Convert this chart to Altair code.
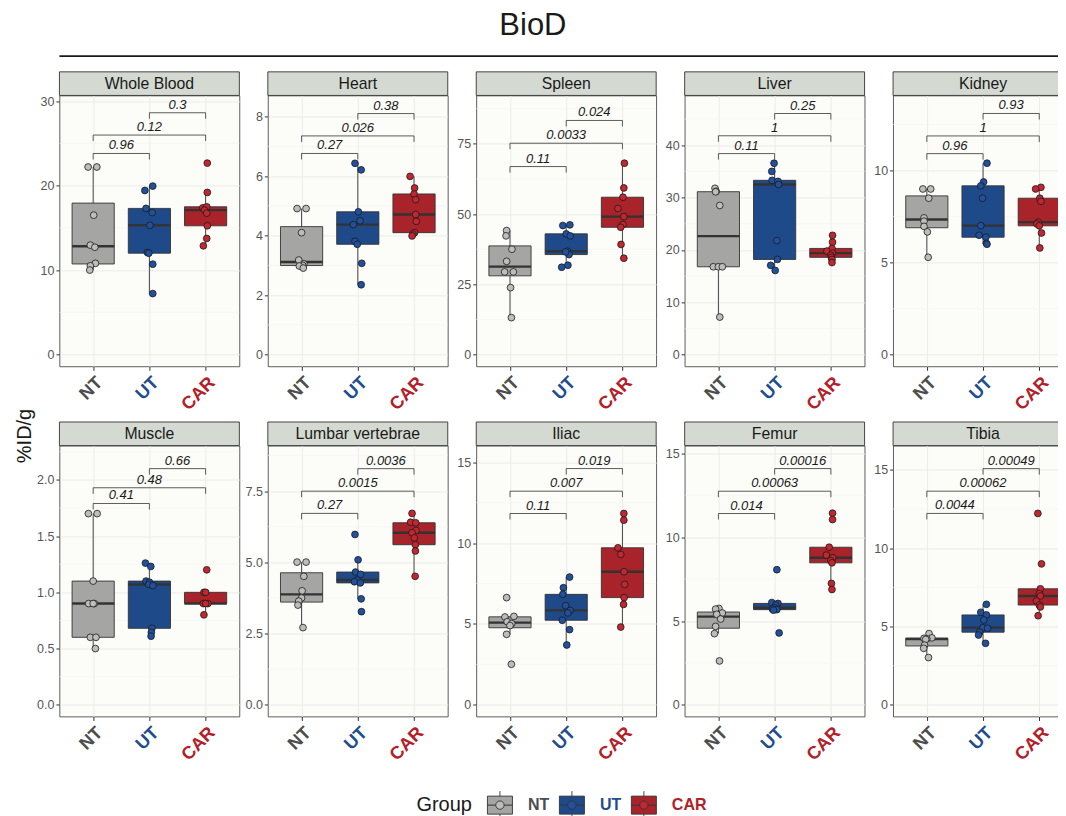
import altair as alt
import pandas as pd

FONT = "Liberation Sans"
GROUPS = ["NT", "UT", "CAR"]
BOX_FILL = ["#A5A5A3", "#1F4A8A", "#A9232B"]
PT_FILL = ["#BDBDBB", "#21509C", "#C2272F"]
LAB_COL = ["#4D4D4D", "#1F4E8C", "#B3202A"]

# ---------------- data ----------------
# Whole Blood
wb_nt = [22.2, 22.2, 16.5, 12.95, 12.7, 10.8, 10.5, 10.0]
wb_nt_j = [-0.09, 0.065, 0.01, -0.05, 0.03, 0.04, -0.05, -0.06]
wb_ut = [19.42, 19.94, 17.3, 16.8, 15.3, 12.08, 12.0, 10.7, 7.22]
wb_ut_j = [-0.08, 0.06, -0.06, 0.05, 0.01, -0.035, -0.01, 0.06, 0.06]
wb_car = [22.66, 19.19, 17.37, 17.49, 17.1, 16.74, 15.24, 13.74, 12.87]
wb_car_j = [0.03, 0.03, -0.05, 0.02, -0.02, 0.02, 0.03, 0.02, -0.04]
wb_br = [23.8, 25.98, 28.62]
wb_p = ["0.96", "0.12", "0.3"]

# Heart
ht_nt = [4.91, 4.91, 4.10, 3.18, 3.05, 3.0, 2.98, 2.91]
ht_nt_j = [-0.08, 0.08, 0.0, -0.05, 0.04, 0.02, -0.04, 0.03]
ht_ut = [6.43, 6.21, 4.80, 4.50, 4.37, 3.81, 3.71, 3.07, 2.35]
ht_ut_j = [-0.05, 0.06, 0.01, 0.04, -0.08, -0.05, -0.01, 0.07, 0.06]
ht_car = [5.99, 5.60, 5.40, 5.21, 4.71, 4.48, 4.10, 4.05, 3.99]
ht_car_j = [-0.07, 0.01, 0.0, 0.03, 0.03, 0.04, 0.01, -0.02, -0.035]
ht_br = [6.76, 7.35, 8.10]
ht_p = ["0.27", "0.026", "0.38"]

# Spleen
sp_nt = [44.14, 42.25, 37.5, 33.2, 29.43, 29.43, 23.85, 13.17]
sp_nt_j = [-0.06, -0.07, 0.035, -0.06, -0.095, 0.06, 0.01, 0.025]
sp_ut = [46.16, 45.93, 42.96, 42.25, 36.79, 35.6, 36.55, 31.8, 31.09]
sp_ut_j = [0.065, -0.06, 0.0, 0.07, 0.02, 0.05, -0.01, 0.03, -0.08]
sp_car = [68.1, 59.3, 56.0, 52.0, 49.1, 46.3, 45.3, 39.2, 34.3]
sp_car_j = [0.035, 0.025, 0.01, -0.08, 0.025, 0.01, -0.03, -0.025, 0.025]
sp_br = [66.9, 75.2, 83.3]
sp_p = ["0.11", "0.0033", "0.024"]

# Liver
lv_nt = [31.78, 31.2, 31.1, 28.5, 16.8, 16.8, 16.8, 7.2]
lv_nt_j = [-0.06, -0.04, -0.05, 0.025, -0.09, 0.0, 0.07, 0.025]
lv_ut = [36.56, 35.0, 33.3, 33.1, 32.5, 21.8, 18.2, 17.07, 16.1]
lv_ut_j = [-0.01, -0.05, -0.045, 0.06, 0.07, 0.04, 0.05, -0.07, 0.01]
lv_car = [22.8, 21.5, 20.3, 19.8, 19.4, 19.0, 18.6, 18.2, 17.6]
lv_car_j = [0.03, 0.03, 0.02, -0.07, 0.03, 0.0, 0.01, 0.02, 0.02]
lv_br = [38.4, 41.8, 46.05]
lv_p = ["0.11", "1", "0.25"]

# Kidney
kd_nt = [9.0, 9.0, 8.5, 7.43, 7.25, 6.97, 6.67, 5.29]
kd_nt_j = [-0.07, 0.07, 0.035, -0.05, -0.05, -0.05, 0.01, 0.025]
kd_ut = [10.4, 9.38, 9.17, 8.5, 7.01, 6.49, 6.38, 6.05, 6.0]
kd_ut_j = [0.07, 0.01, -0.04, -0.01, -0.04, -0.07, 0.05, 0.06, 0.07]
kd_car = [9.09, 9.0, 8.5, 8.33, 7.2, 7.1, 7.0, 6.61, 5.8]
kd_car_j = [0.03, -0.065, 0.01, 0.03, -0.02, -0.04, 0.0, 0.04, 0.01]
kd_br = [10.92, 11.88, 13.1]
kd_p = ["0.96", "1", "0.93"]

# Muscle
mu_nt = [1.7, 1.7, 1.1, 0.9, 0.9, 0.9, 0.6, 0.6, 0.5]
mu_nt_j = [-0.085, 0.07, 0.0, -0.08, 0.02, 0.0, -0.05, 0.05, 0.04]
mu_ut = [1.26, 1.23, 1.10, 1.09, 1.07, 1.06, 0.68, 0.645, 0.61]
mu_ut_j = [-0.07, 0.025, -0.06, 0.0, -0.01, 0.06, 0.045, 0.035, 0.03]
mu_car = [1.2, 1.0, 1.0, 0.9, 0.9, 0.9, 0.8]
mu_car_j = [0.02, -0.03, 0.0, -0.04, 0.04, 0.0, -0.03]
mu_br = [1.79, 1.93, 2.10]
mu_p = ["0.41", "0.48", "0.66"]

# Lumbar vertebrae
lu_nt = [5.01, 5.01, 4.51, 4.0, 3.75, 3.64, 3.5, 2.71]
lu_nt_j = [-0.08, 0.08, 0.04, 0.01, 0.0, -0.05, -0.065, 0.025]
lu_ut = [5.98, 5.09, 4.66, 4.58, 4.38, 4.32, 4.28, 3.72, 3.27]
lu_ut_j = [-0.05, 0.005, -0.04, 0.05, -0.01, -0.06, 0.045, 0.06, 0.065]
lu_car = [6.72, 6.41, 6.39, 6.12, 6.04, 5.86, 5.62, 5.40, 4.51]
lu_car_j = [-0.035, -0.06, 0.03, 0.035, -0.035, 0.005, 0.025, 0.025, 0.02]
lu_br = [6.72, 7.50, 8.29]
lu_p = ["0.27", "0.0015", "0.0036"]

# Iliac
il_nt = [6.63, 5.47, 5.43, 5.14, 5.02, 4.9, 4.36, 2.51]
il_nt_j = [-0.06, 0.07, -0.09, -0.05, 0.03, 0.0, -0.06, 0.025]
il_ut = [7.90, 7.24, 6.83, 6.13, 5.84, 5.68, 5.23, 4.65, 3.70]
il_ut_j = [0.06, -0.05, -0.06, -0.01, 0.07, 0.03, -0.07, 0.06, 0.01]
il_car = [11.83, 11.42, 9.71, 9.30, 8.23, 7.45, 6.63, 6.21, 4.81]
il_car_j = [0.025, 0.025, -0.08, -0.03, 0.03, 0.04, 0.03, 0.02, -0.03]
il_br = [11.83, 13.21, 14.61]
il_p = ["0.11", "0.007", "0.019"]

# Femur
fe_nt = [5.75, 5.71, 5.48, 5.40, 5.12, 4.68, 4.25, 2.62]
fe_nt_j = [0.01, -0.05, 0.07, -0.03, 0.04, -0.05, -0.07, 0.02]
fe_ut = [8.06, 6.10, 6.05, 5.95, 5.79, 5.72, 5.68, 5.65, 4.29]
fe_ut_j = [0.04, -0.05, 0.06, 0.02, 0.0, -0.04, 0.04, -0.02, 0.08]
fe_car = [11.43, 11.05, 9.40, 8.93, 8.77, 8.6, 8.47, 7.24, 6.88]
fe_car_j = [0.03, 0.03, -0.03, -0.08, 0.035, 0.0, 0.02, 0.01, 0.02]
fe_br = [11.41, 12.74, 14.09]
fe_p = ["0.014", "0.00063", "0.00016"]

# Tibia
ti_nt = [4.55, 4.28, 4.25, 4.22, 4.18, 3.81, 3.61, 3.02]
ti_nt_j = [0.04, 0.09, -0.05, 0.0, -0.02, -0.04, -0.055, 0.03]
ti_ut = [6.42, 5.91, 5.74, 5.42, 4.93, 4.89, 4.64, 4.46, 3.93]
ti_ut_j = [0.06, -0.04, 0.06, 0.015, 0.0, 0.08, -0.06, -0.08, 0.045]
ti_car = [12.22, 9.0, 7.41, 7.1, 6.95, 6.63, 6.37, 6.25, 5.69]
ti_car_j = [-0.025, 0.04, 0.02, 0.0, 0.02, -0.05, 0.0, 0.02, -0.02]
ti_br = [12.22, 13.64, 15.08]
ti_p = ["0.0044", "0.00062", "0.00049"]

PANELS = [
    ("Whole Blood", [wb_nt, wb_ut, wb_car], [wb_nt_j, wb_ut_j, wb_car_j], [-1.39, 30.67], [0, 10, 20, 30], "d", wb_br, wb_p),
    ("Heart", [ht_nt, ht_ut, ht_car], [ht_nt_j, ht_ut_j, ht_car_j], [-0.39, 8.71], [0, 2, 4, 6, 8], "d", ht_br, ht_p),
    ("Spleen", [sp_nt, sp_ut, sp_car], [sp_nt_j, sp_ut_j, sp_car_j], [-4.15, 92.2], [0, 25, 50, 75], "d", sp_br, sp_p),
    ("Liver", [lv_nt, lv_ut, lv_car], [lv_nt_j, lv_ut_j, lv_car_j], [-2.2, 49.5], [0, 10, 20, 30, 40], "d", lv_br, lv_p),
    ("Kidney", [kd_nt, kd_ut, kd_car], [kd_nt_j, kd_ut_j, kd_car_j], [-0.63, 14.08], [0, 5, 10], "d", kd_br, kd_p),
    ("Muscle", [mu_nt, mu_ut, mu_car], [mu_nt_j, mu_ut_j, mu_car_j], [-0.104, 2.305], [0, 0.5, 1.0, 1.5, 2.0], ".1f", mu_br, mu_p),
    ("Lumbar vertebrae", [lu_nt, lu_ut, lu_car], [lu_nt_j, lu_ut_j, lu_car_j], [-0.41, 9.10], [0, 2.5, 5.0, 7.5], ".1f", lu_br, lu_p),
    ("Iliac", [il_nt, il_ut, il_car], [il_nt_j, il_ut_j, il_car_j], [-0.72, 16.03], [0, 5, 10, 15], "d", il_br, il_p),
    ("Femur", [fe_nt, fe_ut, fe_car], [fe_nt_j, fe_ut_j, fe_car_j], [-0.69, 15.46], [0, 5, 10, 15], "d", fe_br, fe_p),
    ("Tibia", [ti_nt, ti_ut, ti_car], [ti_nt_j, ti_ut_j, ti_car_j], [-0.74, 16.55], [0, 5, 10, 15], "d", ti_br, ti_p),
]

# ---------------- layout ----------------
W, H = 180, 271
STRIP = 23.6
TIP_PX = 6.0


def make_panel(name, vals, jits, domain, ticks, fmt, br_y, br_p, first=False):
    rows = []
    for gi, g in enumerate(GROUPS):
        for v, j in zip(vals[gi], jits[gi]):
            rows.append(dict(group=g, idx=gi + 1, value=v, jit=j,
                             bc=BOX_FILL[gi], pc=PT_FILL[gi]))
    df = pd.DataFrame(rows)

    tip = TIP_PX * (domain[1] - domain[0]) / H
    br = pd.DataFrame(dict(a=[1, 1, 2], b=[2, 3, 3], y=br_y, p=br_p))
    br["ytip"] = br["y"] - tip
    br["mid"] = (br["a"] + br["b"]) / 2

    step = ticks[1] - ticks[0]
    minors = [t + step / 2 for t in ticks if t + step / 2 < domain[1]]

    xs = alt.Scale(domain=[0.4, 3.6], nice=False, zero=False)
    ys = alt.Scale(domain=domain, nice=False, zero=False)
    xaxis = alt.Axis(
        values=[1, 2, 3],
        labelExpr="datum.value == 1 ? 'NT' : datum.value == 2 ? 'UT' : 'CAR'",
        labelAngle=-45, labelAlign="right", labelBaseline="top",
        labelFontSize=18, labelFontWeight="bold", labelPadding=3,
        labelColor={"condition": [
            {"test": "datum.value == 2", "value": LAB_COL[1]},
            {"test": "datum.value == 3", "value": LAB_COL[2]}],
            "value": LAB_COL[0]},
        labelOverlap=False, labelFlush=False,
        tickColor="#333333", tickSize=4, domain=False,
        grid=True, gridColor="#EBEBEB", gridWidth=1, title=None)
    yaxis = alt.Axis(
        values=ticks, format=fmt, labelFontSize=12.5, labelColor="#555555",
        labelPadding=2, labelOverlap=False, tickColor="#333333", tickSize=3.5,
        domain=False, grid=True, gridColor="#EBEBEB", gridWidth=1, title=None)

    def X(f):
        return alt.X(f, type="quantitative", scale=xs, axis=xaxis)

    def Y(f):
        return alt.Y(f, type="quantitative", scale=ys, axis=yaxis)

    base = alt.Chart(df)

    minor = alt.Chart(pd.DataFrame({"m": minors})).mark_rule(
        color="#F3F3F1", strokeWidth=0.6).encode(y=Y("m"))

    whisk = base.transform_joinaggregate(
        q1="q1(value)", q3="q3(value)", groupby=["group", "idx"]
    ).transform_calculate(
        lo="datum.q1 - 1.5 * (datum.q3 - datum.q1)",
        hi="datum.q3 + 1.5 * (datum.q3 - datum.q1)",
    ).transform_filter(
        "datum.value >= datum.lo && datum.value <= datum.hi"
    ).transform_aggregate(
        wmin="min(value)", wmax="max(value)", groupby=["group", "idx"]
    ).mark_rule(color="#333333", strokeWidth=0.9).encode(
        x=X("idx"), y=Y("wmin"), y2=alt.Y2("wmax"))

    stats = base.transform_aggregate(
        q1="q1(value)", med="median(value)", q3="q3(value)",
        groupby=["group", "idx", "bc"]
    ).transform_calculate(x1="datum.idx - 0.375", x2="datum.idx + 0.375")

    box = stats.mark_rect(stroke="#333333", strokeWidth=0.9).encode(
        x=X("x1"), x2=alt.X2("x2"), y=Y("q1"), y2=alt.Y2("q3"),
        fill=alt.Fill("bc:N", scale=None))
    med = stats.mark_rule(color="#333333", strokeWidth=2.4).encode(
        x=X("x1"), x2=alt.X2("x2"), y=Y("med"))

    pts = base.transform_calculate(xp="datum.idx + datum.jit").mark_point(
        shape="circle", filled=True, size=46, stroke="#1A1A1A",
        strokeWidth=0.8, opacity=1).encode(
        x=X("xp"), y=Y("value"), fill=alt.Fill("pc:N", scale=None))

    bc = alt.Chart(br)
    b_h = bc.mark_rule(color="#333333", strokeWidth=0.8).encode(
        x=X("a"), x2=alt.X2("b"), y=Y("y"))
    b_l = bc.mark_rule(color="#333333", strokeWidth=0.8).encode(
        x=X("a"), y=Y("y"), y2=alt.Y2("ytip"))
    b_r = bc.mark_rule(color="#333333", strokeWidth=0.8).encode(
        x=X("b"), y=Y("y"), y2=alt.Y2("ytip"))
    b_t = bc.mark_text(fontStyle="italic", fontSize=13, color="#1A1A1A",
                       baseline="bottom", dy=-1).encode(
        x=X("mid"), y=Y("y"), text="p:N")

    sdf = pd.DataFrame({"label": [name]})
    s_rect = alt.Chart(sdf).mark_rect(
        fill="#D4D9D1", stroke="#333333", strokeWidth=0.9).encode(
        x=alt.value(0), x2=alt.value(W), y=alt.value(-STRIP), y2=alt.value(0))
    s_text = alt.Chart(sdf).mark_text(fontSize=15.8, color="#1A1A1A").encode(
        x=alt.value(W / 2), y=alt.value(-STRIP / 2), text="label:N")

    layers = [minor, whisk, box, med, b_h, b_l, b_r, b_t, pts, s_rect, s_text]

    if first:
        hdf = pd.DataFrame({"t": ["BioD"], "yl": ["%ID/g"]})
        title = alt.Chart(hdf).mark_text(fontSize=31, color="#1A1A1A").encode(
            x=alt.value(473.7), y=alt.value(-69.3), text="t:N")
        rule = alt.Chart(hdf).mark_rule(color="#1A1A1A", strokeWidth=1.8).encode(
            x=alt.value(0), x2=alt.value(1005), y=alt.value(-39.3))
        ylab = alt.Chart(hdf).mark_text(fontSize=20, angle=270, color="#1A1A1A").encode(
            x=alt.value(-34.3), y=alt.value(340.7), text="yl:N")
        layers += [title, rule, ylab]

    return alt.layer(*layers).properties(
        width=W, height=H,
        view=alt.ViewBackground(fill="#FCFCF8", stroke="#4D4D4D", strokeWidth=0.9))


panels = [make_panel(*p, first=(i == 0)) for i, p in enumerate(PANELS)]

grid = alt.concat(*panels, columns=5,
                  spacing={"row": 79.3, "column": 28.5}, bounds="flush")

# ---------------- legend ----------------
leg = pd.DataFrame({"slot": [0, 1, 2], "group": GROUPS,
                    "bc": BOX_FILL, "pc": PT_FILL, "lc": LAB_COL})
K0 = 440.7
LX = alt.X("slot:Q", scale=alt.Scale(domain=[0, 2], range=[K0, K0 + 144]), axis=None)
CY = 15
lc = alt.Chart(leg)
l_title = alt.Chart(pd.DataFrame({"t": ["Group"]})).mark_text(
    align="right", fontSize=20, color="#1A1A1A").encode(
    x=alt.value(K0 - 28), y=alt.value(CY), text="t:N")
l_wh = lc.mark_rule(color="#333333", strokeWidth=0.9).encode(
    x=LX, y=alt.value(CY - 14), y2=alt.value(CY + 14))
l_box = lc.mark_point(shape="M-1.39,-1H1.39V1H-1.39Z", size=324, filled=True,
                      stroke="#333333", strokeWidth=0.9, opacity=1).encode(
    x=LX, y=alt.value(CY), fill=alt.Fill("bc:N", scale=None))
l_med = lc.mark_point(shape="M-1.39,0H1.39", size=324, filled=False,
                      color="#333333", strokeWidth=1.0, opacity=1).encode(
    x=LX, y=alt.value(CY))
l_pt = lc.mark_point(shape="circle", size=70, filled=True, stroke="#333333",
                     strokeWidth=0.9, opacity=1).encode(
    x=LX, y=alt.value(CY), fill=alt.Fill("pc:N", scale=None))
l_lab = lc.mark_text(align="left", dx=28, fontSize=16, fontWeight="bold").encode(
    x=LX, y=alt.value(CY), text="group:N", color=alt.Color("lc:N", scale=None))
legend = alt.layer(l_title, l_wh, l_box, l_med, l_pt, l_lab).properties(
    width=700, height=30,
    view=alt.ViewBackground(fill="transparent", stroke="transparent"))

chart = alt.vconcat(grid, legend, spacing=24).properties(
    padding={"left": 6.45, "top": 1.3, "right": -16, "bottom": 0}
).configure(font=FONT).configure_view(stroke="transparent")

chart.save("out.html", embed_options={"renderer": "svg", "actions": False})
